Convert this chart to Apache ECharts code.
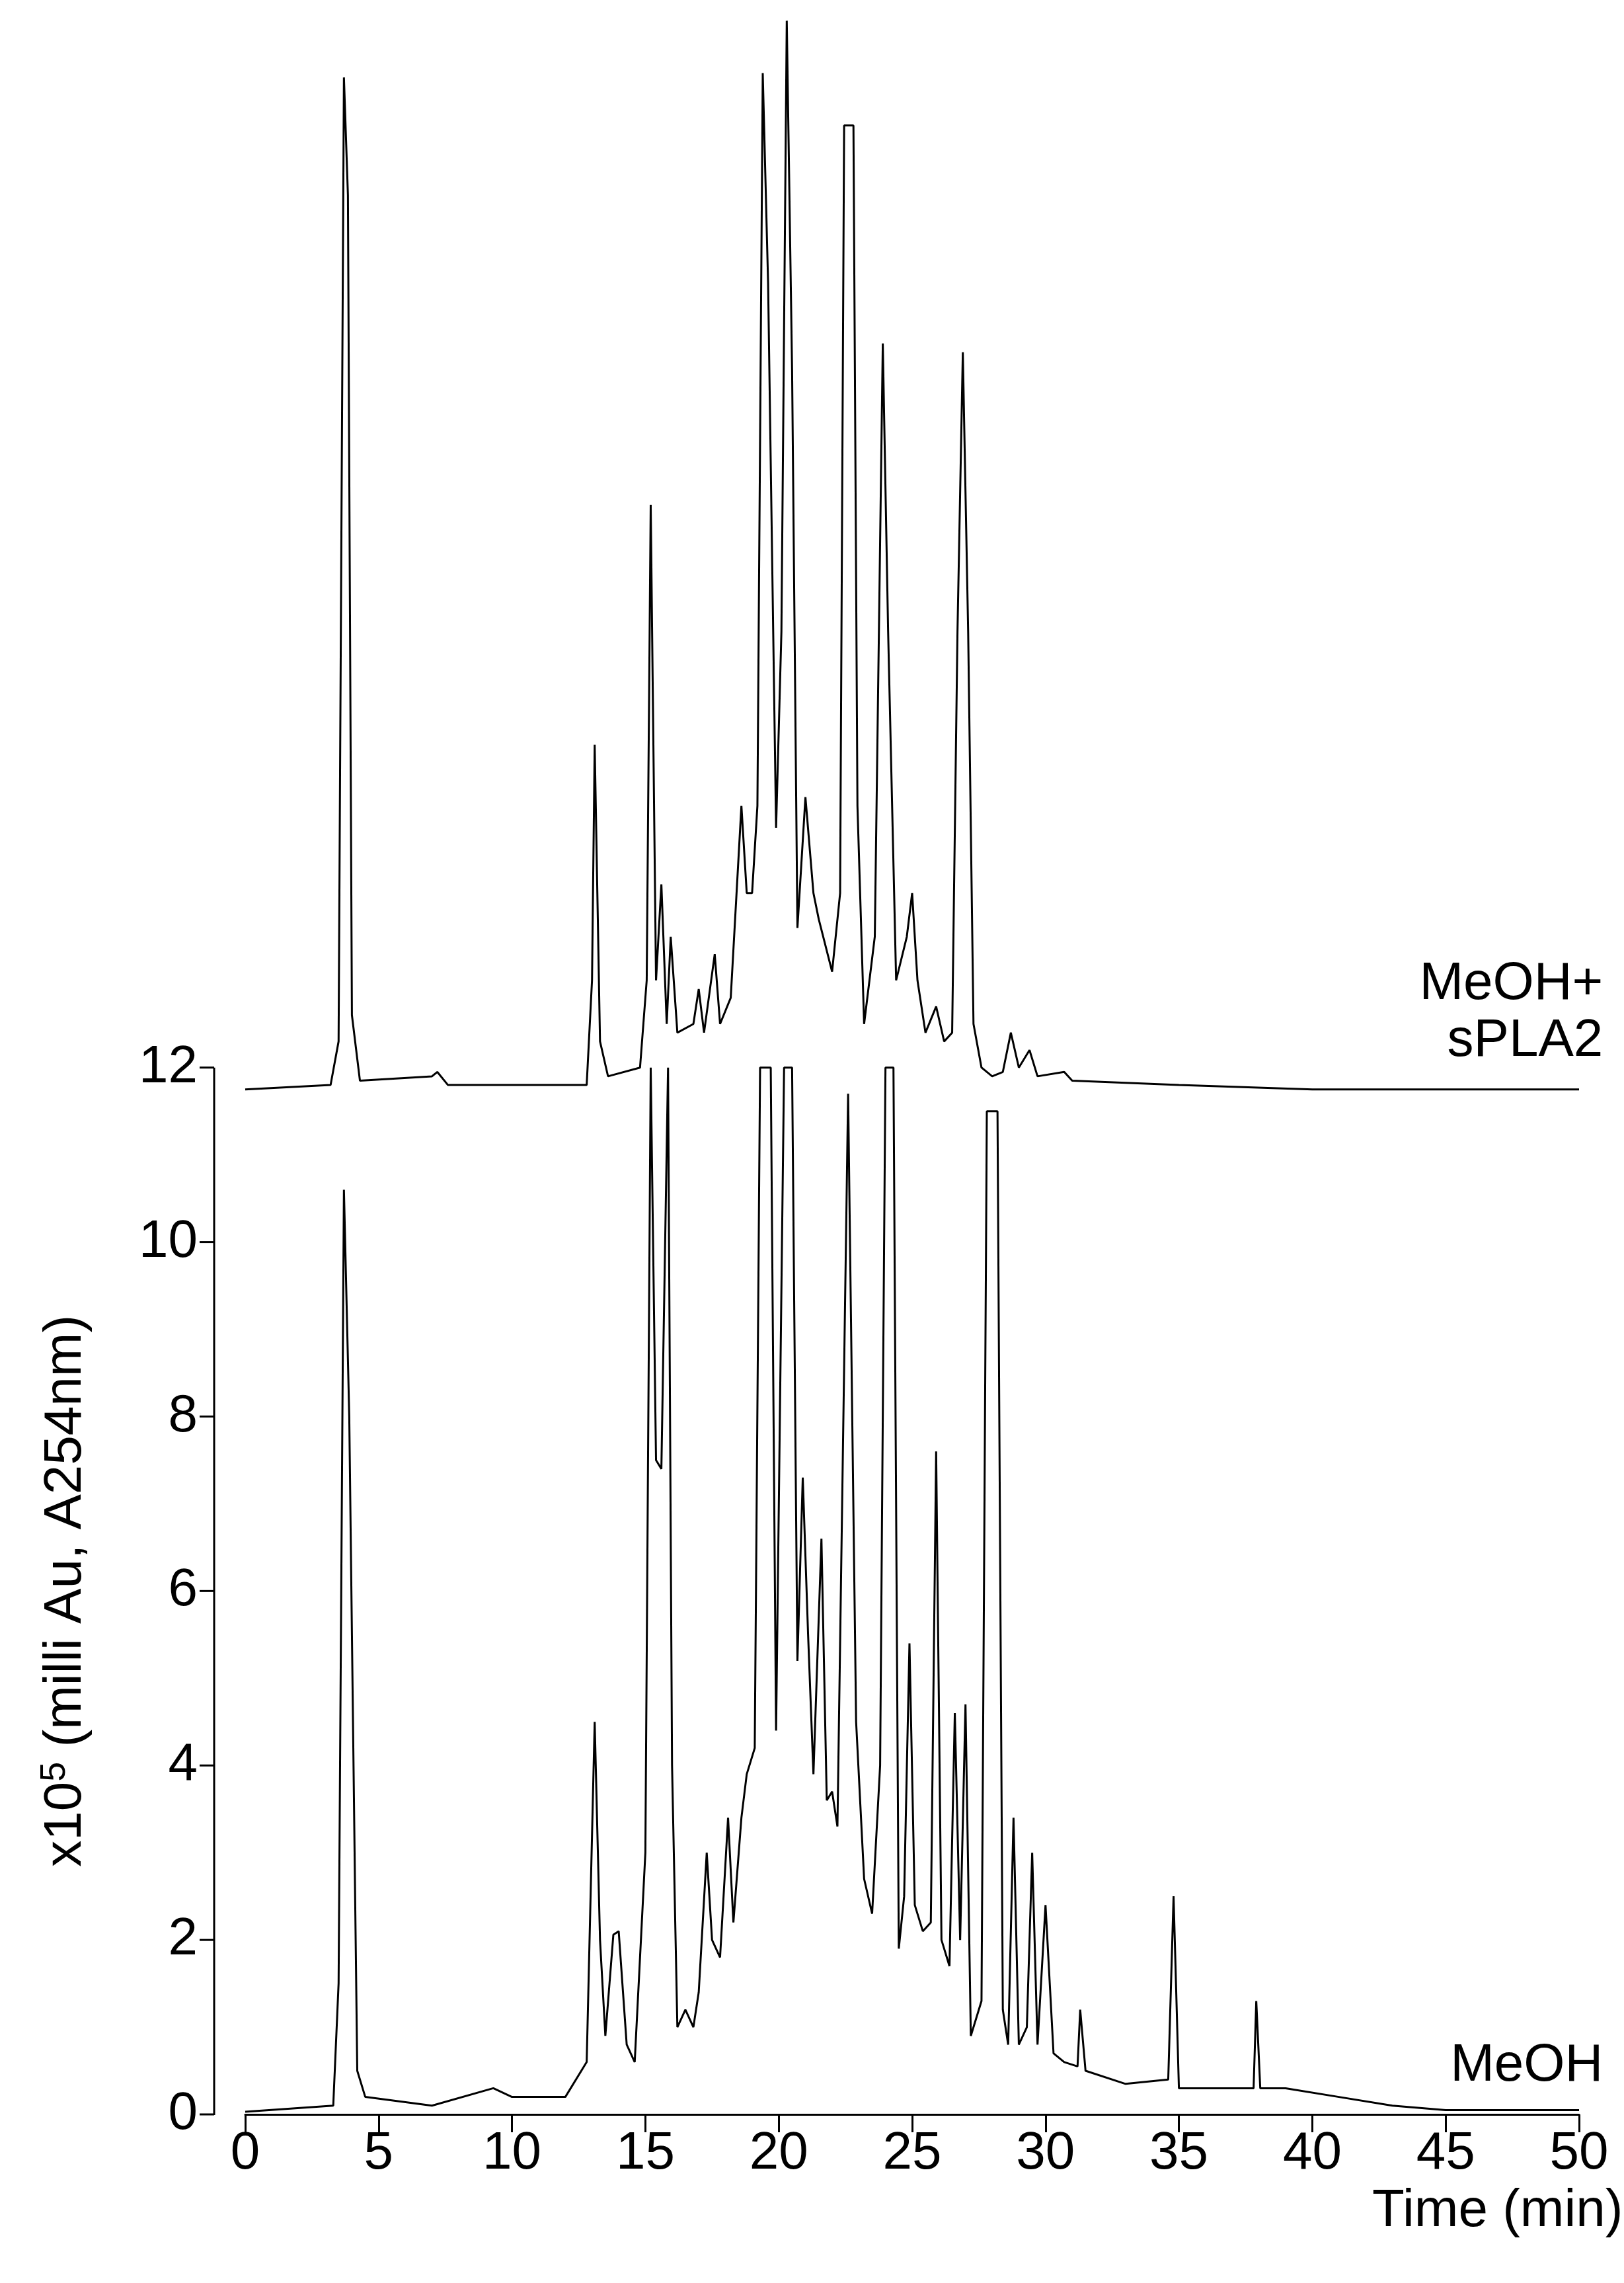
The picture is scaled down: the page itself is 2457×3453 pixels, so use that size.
<!DOCTYPE html>
<html>
<head>
<meta charset="utf-8">
<script src="https://cdn.jsdelivr.net/npm/echarts@6/dist/echarts.min.js"></script>
<style>html,body{margin:0;padding:0;background:#fff}#chart{width:2457px;height:3453px}</style>
</head>
<body>
<div id="chart"></div>
<script>
// MeOH + sPLA2 trace (offset baseline ~11.75)
var topTime = [0,3.2,3.5,3.7,3.85,4.0,4.3,7,7.2,7.6,12.8,13.0,13.1,13.3,13.6,14.8,15.05,15.2,15.4,15.6,15.8,15.95,16.2,16.8,17.0,17.2,17.6,17.8,18.2,18.6,18.8,19.0,19.2,19.4,19.6,19.9,20.1,20.3,20.5,20.7,21.0,21.3,21.5,22.0,22.3,22.45,22.8,22.95,23.2,23.6,23.9,24.1,24.4,24.8,25.0,25.2,25.5,25.9,26.2,26.5,26.7,26.9,27.1,27.3,27.6,28.0,28.4,28.7,29.0,29.4,29.7,30.7,31,35,40,50];
var topVal = [11.75,11.8,12.3,23.35,22,12.6,11.85,11.9,11.95,11.8,11.8,13,15.7,12.3,11.9,12.0,13,18.45,13.0,14.1,12.5,13.5,12.4,12.5,12.9,12.4,13.3,12.5,12.8,15.0,14.0,14.0,15,23.4,21.0,14.75,17,24.0,20,13.6,15.1,14.0,13.7,13.1,14,22.8,22.8,15,12.5,13.5,20.3,17,13.0,13.5,14.0,13.0,12.4,12.7,12.3,12.4,17,20.2,17,12.5,12.0,11.9,11.95,12.4,12.0,12.2,11.9,11.95,11.85,11.8,11.75,11.75];
// MeOH trace (clipped at 12)
var botTime = [0,3.3,3.5,3.7,3.9,4.2,4.5,7,9.3,10,12,12.8,13.1,13.3,13.5,13.8,14,14.3,14.6,15.0,15.2,15.4,15.6,15.85,16.0,16.2,16.5,16.8,17,17.3,17.5,17.8,18.1,18.3,18.6,18.8,19.1,19.3,19.7,19.9,20.2,20.5,20.7,20.9,21.1,21.3,21.6,21.8,22.0,22.2,22.6,22.9,23.2,23.5,23.8,24.0,24.3,24.5,24.7,24.9,25.1,25.4,25.7,25.9,26.1,26.4,26.6,26.8,27.0,27.2,27.6,27.8,28.2,28.4,28.6,28.8,29.0,29.3,29.5,29.7,30.0,30.3,30.7,31.2,31.3,31.5,33,34.6,34.8,35.0,37,37.8,37.9,38.05,39,41,43,45,50];
var botVal = [0.03,0.1,1.5,10.6,8.0,0.5,0.2,0.1,0.3,0.2,0.2,0.6,4.5,2.0,0.9,2.06,2.1,0.8,0.6,3,12,7.5,7.4,12,4,1.0,1.2,1.0,1.4,3,2.0,1.8,3.4,2.2,3.4,3.9,4.2,12,12,4.4,12,12,5.2,7.3,5.5,3.9,6.6,3.6,3.7,3.3,11.7,4.5,2.7,2.3,4.0,12,12,1.9,2.5,5.4,2.4,2.1,2.2,7.6,2.0,1.7,4.6,2.0,4.7,0.9,1.3,11.5,11.5,1.2,0.8,3.4,0.8,1.0,3.0,0.8,2.4,0.7,0.6,0.55,1.2,0.5,0.35,0.4,2.5,0.3,0.3,0.3,1.3,0.3,0.3,0.2,0.1,0.05,0.05];
var xTicks = [0,5,10,15,20,25,30,35,40,45,50];
var yTicks = [0,2,4,6,8,10,12];

function pairs(t, v){
    var res = [];
    for (var i = 0; i < t.length; i++) res.push([t[i], v[i]]);
    return res;
}

var chart = echarts.init(document.getElementById('chart'));
var font = 'Liberation Sans';
var fs = 80;
option = {
    backgroundColor: '#fff',
    animation: false,
    grid: { left: 371, right: 68, top: 5, bottom: 255 },
    xAxis: {
        type: 'value', min: 0, max: 50, interval: 5,
        axisLine: { lineStyle: { color: '#000', width: 3 } },
        axisTick: { length: 27, lineStyle: { color: '#000', width: 3 } },
        axisLabel: { color: '#000', fontSize: fs, fontFamily: font, margin: 20 },
        splitLine: { show: false }
    },
    yAxis: {
        type: 'value', min: 0, max: 24.2, offset: 47,
        axisLine: { show: false },
        axisTick: { show: false },
        axisLabel: { customValues: yTicks, color: '#000', fontSize: fs, fontFamily: font, margin: 25 },
        splitLine: { show: false }
    },
    series: [
        { type: 'line', data: pairs(topTime, topVal), symbol: 'none', lineStyle: { color: '#000', width: 3 } },
        { type: 'line', data: pairs(botTime, botVal), symbol: 'none', lineStyle: { color: '#000', width: 3 } }
    ]
};
chart.setOption(option);

var y0 = chart.convertToPixel({ yAxisIndex: 0 }, 0);
var y12 = chart.convertToPixel({ yAxisIndex: 0 }, 12);
var xr = chart.convertToPixel({ xAxisIndex: 0 }, 50.9);
var ax = 371 - 47;
var txt = function(s){ return { text: s, font: fs + 'px "Liberation Sans"', fill: '#000', align: 'right', verticalAlign: 'middle' }; };
var g = [
    { type: 'line', shape: { x1: ax, y1: y0 + 1, x2: ax, y2: y12 }, style: { stroke: '#000', lineWidth: 3 } },
    { type: 'text', x: xr, y: chart.convertToPixel({ yAxisIndex: 0 }, 12.95), style: txt('MeOH+') },
    { type: 'text', x: xr, y: chart.convertToPixel({ yAxisIndex: 0 }, 12.3), style: txt('sPLA2') },
    { type: 'text', x: xr, y: chart.convertToPixel({ yAxisIndex: 0 }, 0.55), style: txt('MeOH') },
    { type: 'text', x: xr + 30, y: 3345, style: txt('Time (min)') },
    { type: 'text', x: 100, y: (y0 + y12) / 2, rotation: Math.PI / 2,
      style: { text: 'x10{s|5} (milli Au, A254nm)', font: fs + 'px "Liberation Sans"', fill: '#000', align: 'center', verticalAlign: 'middle',
               rich: { s: { fontSize: 54, verticalAlign: 'top', padding: [0, 0, 34, 0] } } } }
];
yTicks.forEach(function(v){
    var py = chart.convertToPixel({ yAxisIndex: 0 }, v);
    g.push({ type: 'line', shape: { x1: ax - 22, y1: py, x2: ax, y2: py }, style: { stroke: '#000', lineWidth: 3 } });
});
chart.setOption({ graphic: g });
</script>
</body>
</html>
